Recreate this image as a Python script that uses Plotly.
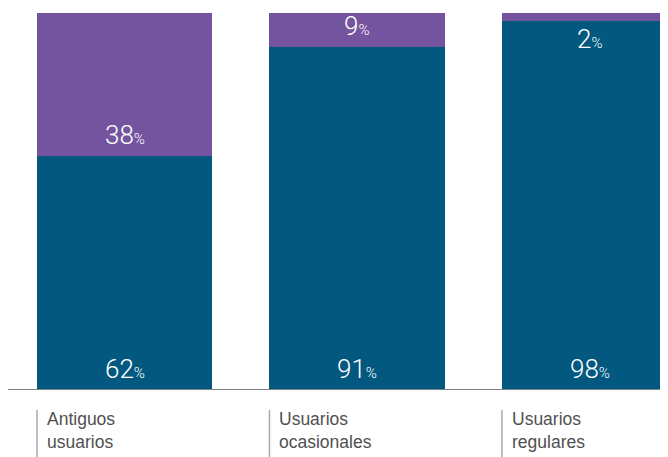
import plotly.graph_objects as go

categories = ["Antiguos<br>usuarios", "Usuarios<br>ocasionales", "Usuarios<br>regulares"]
blue_values = [62, 91, 98]
purple_values = [38, 9, 2]

BLUE = "#02587f"
PURPLE = "#74549f"
FONT = "Roboto, 'Liberation Sans', Arial, sans-serif"
LFONT = "'Liberation Sans', Arial, sans-serif"

xs = list(range(len(categories)))
BW = 0.753
PX = 232.5  # pixels per category unit

fig = go.Figure()
fig.add_trace(go.Bar(x=xs, y=blue_values, marker=dict(color=BLUE, line=dict(width=0)), width=BW, hoverinfo="skip"))
fig.add_trace(go.Bar(x=xs, y=purple_values, marker=dict(color=PURPLE, line=dict(width=0)), width=BW, hoverinfo="skip"))


def label(v):
    return f"{v}<span style='font-size:15px'>%</span>"


annotations = []
shapes = []
for i, (b, p) in enumerate(zip(blue_values, purple_values)):
    annotations.append(dict(x=i, y=0, xref="x", yref="y", text=label(b), showarrow=False,
                            yanchor="bottom", yshift=4,
                            font=dict(family=FONT, size=26, color="white", weight=300)))
    if p >= 5:
        annotations.append(dict(x=i, y=b, xref="x", yref="y", text=label(p), showarrow=False,
                                yanchor="bottom", yshift=4,
                                font=dict(family=FONT, size=26, color="white", weight=300)))
    else:
        annotations.append(dict(x=i, y=b, xref="x", yref="y", text=label(p), showarrow=False,
                                yanchor="top", yshift=-1,
                                font=dict(family=FONT, size=26, color="white", weight=300)))
    annotations.append(dict(x=i - BW / 2, y=-0.045, xref="x", yref="paper", text=categories[i],
                            showarrow=False, xanchor="left", yanchor="top", align="left", xshift=8,
                            font=dict(family=LFONT, size=17.5, color="#505050")))
    shapes.append(dict(type="line", xref="x", yref="paper", x0=i - BW / 2, x1=i - BW / 2,
                       y0=-0.053, y1=-0.2, line=dict(color="#aaaaaa", width=1.5)))

shapes.append(dict(type="line", xref="paper", yref="y", x0=0, x1=1, y0=0, y1=0,
                   line=dict(color="#808080", width=2)))

fig.update_layout(
    width=668, height=457,
    margin=dict(l=0, r=0, t=5, b=75),
    barmode="stack",
    showlegend=False,
    plot_bgcolor="white", paper_bgcolor="white",
    xaxis=dict(range=[-116.5 / PX, (-116.5 + 668) / PX], visible=False),
    yaxis=dict(range=[0, 100], visible=False),
    annotations=annotations,
    shapes=shapes,
)

fig.write_html("out.html")
